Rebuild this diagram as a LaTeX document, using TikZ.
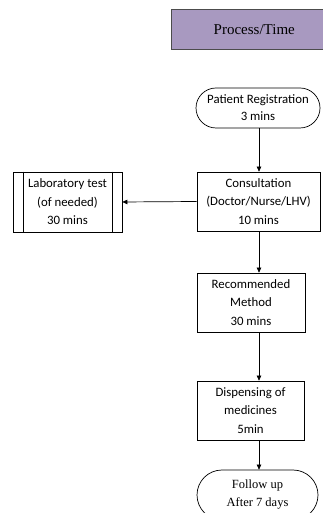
\documentclass[tikz,border=0pt]{standalone}
\usepackage{fontspec}
\setmainfont{Carlito}
\newfontfamily\serifx{Liberation Serif}
\usetikzlibrary{arrows.meta,shapes.misc}
\begin{document}
\begin{tikzpicture}[x=1pt,y=1pt,
  box/.style={draw=black,line width=0.7pt,align=center,font=\fontsize{12.8}{18.5}\selectfont,inner sep=0pt},
  pill/.style={box,rounded rectangle},
  arr/.style={draw=black,line width=0.7pt,-{Triangle[length=5pt,width=4.5pt]}}]
\useasboundingbox (0,0) rectangle (323,513);
\fill[white] (0,0) rectangle (323,513);
\node[draw=black!70,line width=0.6pt,fill={rgb,255:red,168;green,153;blue,192},minimum width=166,minimum height=40,inner sep=0pt,anchor=north west,font=\serifx\fontsize{15}{18}\selectfont] (pt) at (171,503.5) {Process/Time};
\node[pill,minimum width=124,minimum height=40,font=\fontsize{12.8}{17}\selectfont] (reg) at (258,405) {Patient Registration\\3 mins};
\node[box,minimum width=123,minimum height=59] (con) at (258.5,311.5) {Consultation\\(Doctor/Nurse/LHV)\\10 mins};
\node[box,minimum width=109,minimum height=60] (lab) at (67.5,311) {Laboratory test\\(of needed)\\30 mins};
\draw[line width=0.7pt] ([xshift=11]lab.north west) -- ([xshift=11]lab.south west)
  ([xshift=-10]lab.north east) -- ([xshift=-10]lab.south east);
\node[box,minimum width=108,minimum height=59] (rec) at (251,210.5) {Recommended\\Method\\30 mins};
\node[box,minimum width=107,minimum height=59] (dis) at (250.5,102.5) {Dispensing of\\medicines\\5min};
\node[pill,minimum width=121,minimum height=50,font=\serifx\fontsize{12.5}{18}\selectfont] (fol) at (257.5,18) {Follow up\\After 7 days};
\coordinate (ax) at (259,0);
\draw[arr] (ax |- reg.south) -- (ax |- con.north);
\draw[arr] (con.west) -- (lab.east);
\draw[arr] (ax |- con.south) -- (ax |- rec.north);
\draw[arr] (ax |- rec.south) -- (ax |- dis.north);
\draw[arr] (ax |- dis.south) -- (ax |- fol.north);
\end{tikzpicture}
\end{document}
